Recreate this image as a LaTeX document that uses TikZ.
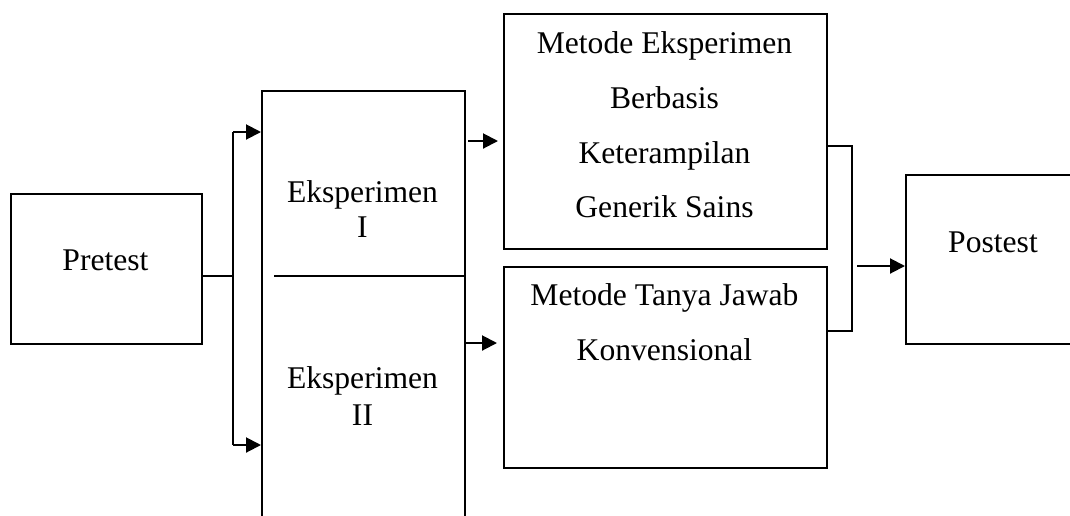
\documentclass[tikz,border=0pt]{standalone}
\usepackage{fontspec}
\setmainfont{Liberation Serif}
\usetikzlibrary{arrows.meta}
\begin{document}
\begin{tikzpicture}[x=0.5pt,y=-0.5pt,
  box/.style={draw,line width=1pt},
  lbl/.style={anchor=base,inner sep=0pt,font=\fontsize{15.8}{19}\selectfont},
  conn/.style={line width=1pt},
  arr/.style={line width=1pt,-{Triangle[length=7.5pt,width=7.5pt]}}]
\useasboundingbox (0,0) rectangle (1070,515);
\clip (0,0) rectangle (1070,515);
\fill[white] (0,0) rectangle (1070,515);
% boxes
\node[box,anchor=north west,minimum width=95.5pt,minimum height=75pt,inner sep=0pt] (pre) at (10,193) {};
\node[box,anchor=north west,minimum width=101.5pt,minimum height=220pt,inner sep=0pt] (big) at (261,90) {};
\node[box,anchor=north west,minimum width=161.5pt,minimum height=117.5pt,inner sep=0pt] (m1) at (503,13) {};
\node[box,anchor=north west,minimum width=161.5pt,minimum height=100.5pt,inner sep=0pt] (m2) at (503,266) {};
\node[box,anchor=north west,minimum width=88pt,minimum height=84.5pt,inner sep=0pt] (post) at (905,174) {};
% divider inside big box
\coordinate (divL) at (274,276);
\draw[conn] (divL) -- (divL -| big.east);
% texts
\node[lbl] (tpre) at (105.5,270) {Pretest};
\node[lbl] (te1) at (362.5,202) {Eksperimen};
\node[lbl] (te1b) at (362.5,237) {I};
\node[lbl] (te2) at (362.5,388) {Eksperimen};
\node[lbl] (te2b) at (362.5,425) {II};
\node[lbl] (tm1a) at (664.5,53) {Metode Eksperimen};
\node[lbl] (tm1b) at (664.5,108) {Berbasis};
\node[lbl] (tm1c) at (664.5,163) {Keterampilan};
\node[lbl] (tm1d) at (664.5,217) {Generik Sains};
\node[lbl] (tm2a) at (664.5,305) {Metode Tanya Jawab};
\node[lbl] (tm2b) at (664.5,360) {Konvensional};
\node[lbl] (tpost) at (993,252) {Postest};
% connectors from pretest
\coordinate (sp) at (233,276);
\coordinate (spT) at (233,132);
\coordinate (spB) at (233,445);
\draw[conn] (pre.east |- sp) -- (sp);
\draw[conn] (spT) -- (spB);
\draw[arr] (spT) -- (spT -| big.west);
\draw[arr] (spB) -- (spB -| big.west);
% arrows to methods
\coordinate (a1s) at (468,141);
\coordinate (a1e) at (498,141);
\coordinate (a2s) at (466,343);
\coordinate (a2e) at (497,343);
\draw[arr] (a1s) -- (a1e);
\draw[arr] (a2s) -- (a2e);
% bracket to postest
\coordinate (brT) at (852,146);
\coordinate (brB) at (852,331);
\draw[conn] (m1.east |- brT) -- (brT) -- (brB) -- (m2.east |- brB);
\coordinate (a3s) at (857,266);
\draw[arr] (a3s) -- (a3s -| post.west);
\end{tikzpicture}
\end{document}
